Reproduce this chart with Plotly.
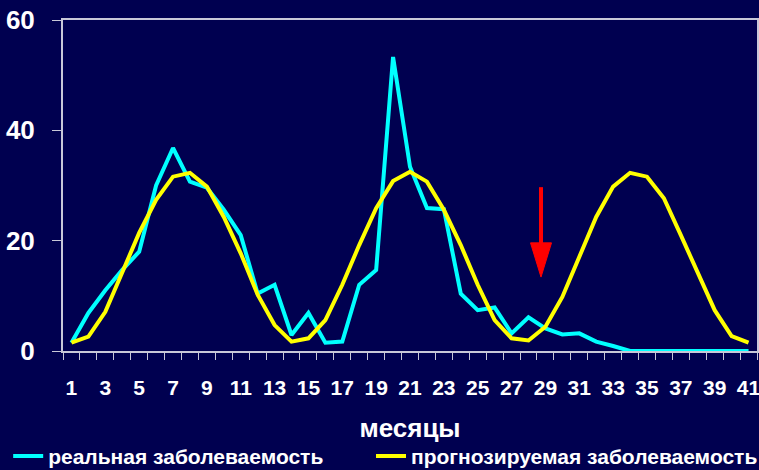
import plotly.graph_objects as go

months = list(range(1, 42))
real = [1.5, 6.9, 11, 14.7, 18, 30, 36.8, 30.7, 29.6, 25.6, 21, 10.4, 12, 2.9, 6.9,
        1.5, 1.7, 12, 14.7, 53.3, 33.4, 25.9, 25.7, 10.4, 7.4, 7.9, 3.2, 6.1, 4.1, 3.0,
        3.2, 1.7, 0.9, 0, 0, 0, 0, 0, 0, 0, 0]
forecast = [1.5, 2.6, 7.1, 14.1, 21.4, 27.4, 31.6, 32.3, 29.8, 24.3, 17.7, 10.2, 4.7, 1.7, 2.3,
            5.6, 12, 19.2, 25.9, 30.8, 32.5, 30.7, 25.6, 19.2, 12, 5.6, 2.3, 1.9, 4.4, 9.8,
            17.1, 24.3, 29.8, 32.3, 31.6, 27.7, 21, 14.1, 7.4, 2.7, 1.5]
x_ticks = list(range(1, 42, 2))
y_ticks = [0, 20, 40, 60]
series_names = ["реальная заболеваемость", "прогнозируемая заболеваемость"]

BG = "#000050"
AX = "#c8c8d8"
FONT = "Liberation Sans, Arial, sans-serif"

fig = go.Figure()
fig.add_trace(go.Scatter(x=months, y=real, mode="lines", name=series_names[0],
                         line=dict(color="#00ffff", width=4), legend="legend"))
fig.add_trace(go.Scatter(x=months, y=forecast, mode="lines", name=series_names[1],
                         line=dict(color="#ffff00", width=4), legend="legend2"))

# red arrow (annotation marker)
ax_x = 28.74
fig.add_shape(type="line", x0=ax_x, x1=ax_x, y0=29.7, y1=19.0,
              line=dict(color="#ff0000", width=4), xref="x", yref="y")
fig.add_shape(type="path",
              path=f"M {ax_x-0.62},19.6 L {ax_x+0.62},19.6 L {ax_x},13.4 Z",
              fillcolor="#ff0000", line=dict(color="#ff0000", width=1), xref="x", yref="y")

leg_font = dict(size=21, family=FONT, color="white", weight="bold")
fig.update_layout(
    width=759, height=470,
    paper_bgcolor=BG, plot_bgcolor=BG,
    margin=dict(l=63, r=2, t=20, b=119, autoexpand=False),
    font=dict(family=FONT, color="white"),
    showlegend=True,
    legend=dict(orientation="h", x=-0.079, xanchor="left", y=-0.256, yanchor="top",
                font=leg_font, bgcolor="rgba(0,0,0,0)", itemwidth=30),
    legend2=dict(orientation="h", x=0.4438, xanchor="left", y=-0.256, yanchor="top",
                 font=leg_font, bgcolor="rgba(0,0,0,0)", itemwidth=30),
)
fig.update_xaxes(
    range=[0.5, 41.5], tickvals=x_ticks, ticktext=[str(v) for v in x_ticks],
    ticks="", showgrid=False, zeroline=False, automargin=False,
    ticklabeloverflow="allow",
    showline=True, linecolor=AX, linewidth=2, mirror=True,
    tickfont=dict(size=21, family=FONT, color="white", weight="bold"),
    ticklabelstandoff=17,
    minor=dict(tick0=0.5, dtick=1, ticks="outside", ticklen=7, tickcolor=AX, tickwidth=1, showgrid=False),
    title=dict(text="месяцы", font=dict(size=26, family=FONT, color="white", weight="bold"), standoff=21),
)
fig.update_yaxes(
    range=[0, 60], tickvals=y_ticks, ticks="outside", ticklen=9, tickcolor=AX, tickwidth=1,
    showgrid=False, zeroline=False, automargin=False,
    ticklabeloverflow="allow",
    showline=True, linecolor=AX, linewidth=2, mirror=True,
    tickfont=dict(size=26, family=FONT, color="white", weight="bold"),
    ticklabelstandoff=12,
)

fig.write_html("out.html", config={"displayModeBar": False},
               post_script="document.body.style.margin='0';document.body.style.overflow='hidden';")
